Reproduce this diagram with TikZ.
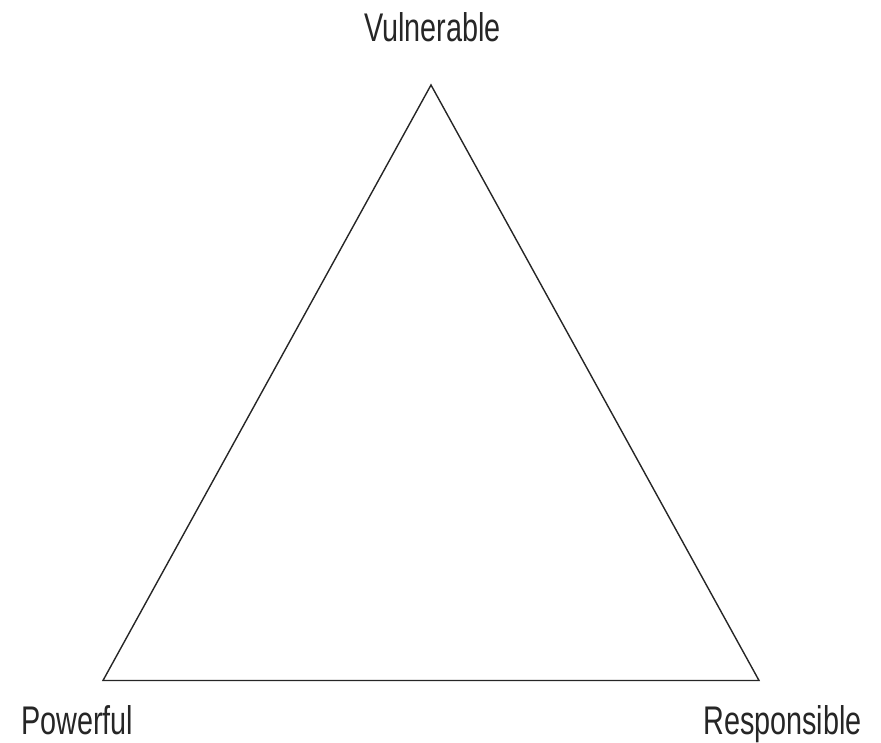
\documentclass[tikz,border=0pt]{standalone}
\usepackage{fontspec}
\newfontfamily\narrowsans[FakeStretch=0.72]{Liberation Sans}
\begin{document}
\begin{tikzpicture}[x=1pt,y=1pt,
  lbl/.style={font=\narrowsans\fontsize{40}{40}\selectfont, inner sep=0pt, text=black!85},
  edge/.style={draw=black!85, line width=1.4pt, line join=miter}]
\useasboundingbox (0,0) rectangle (881,743);
\coordinate (top) at (431,658);
\coordinate (bl) at (103,62.5);
\coordinate (br) at (759,62.5);
\path[edge] (top) -- (bl) -- (br) -- cycle;
\node[lbl, anchor=base] (v) at (432.5,701) {Vulnerable};
\node[lbl, anchor=base west] (p) at (21,8) {Powerful};
\node[lbl, anchor=base east] (r) at (862,8) {Responsible};
\end{tikzpicture}
\end{document}
